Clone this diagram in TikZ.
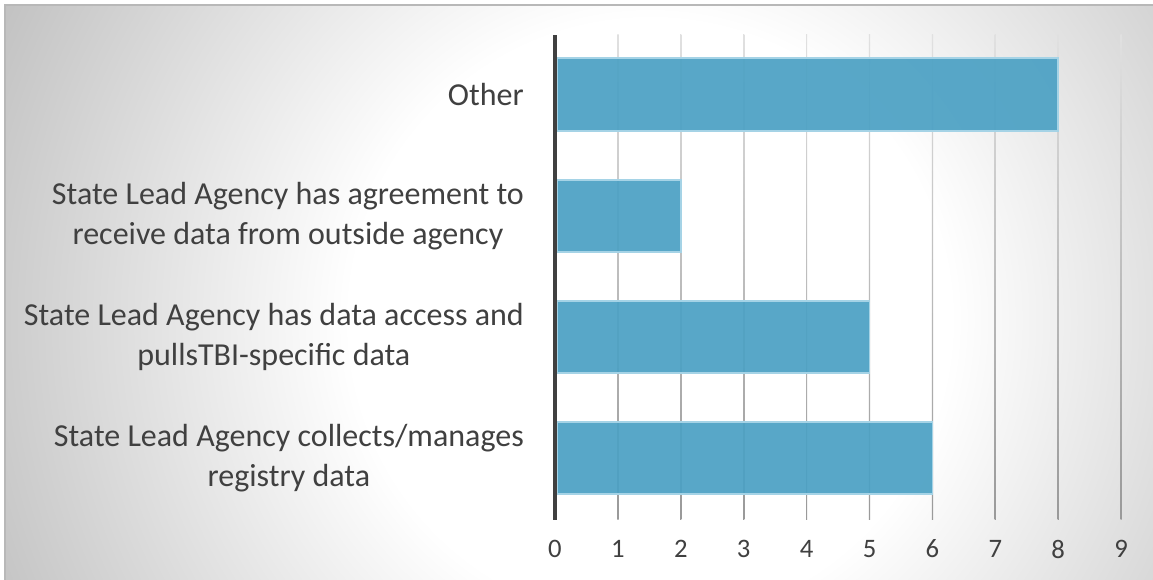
\documentclass[tikz,border=0pt]{standalone}
\usepackage{fontspec}
\setmainfont{Carlito}
\definecolor{barblue}{RGB}{76,161,196}
\definecolor{baredge}{RGB}{165,211,230}
\definecolor{txtgray}{RGB}{64,64,64}
\pgfdeclareradialshading{chartbg}{\pgfpoint{0bp}{0bp}}{color(0bp)=(white); color(10bp)=(white); color(24bp)=(black!24); color(50bp)=(black!24)}
\begin{document}
\begin{tikzpicture}[x=0.75pt,y=0.75pt,
  bar/.style={fill=barblue, fill opacity=0.93, draw=baredge, line width=1.1pt},
  catlabel/.style={anchor=east, align=center, inner sep=0pt, text=txtgray, font=\fontsize{24}{30}\selectfont},
  ticklabel/.style={inner sep=0pt, text=txtgray, font=\fontsize{20}{24}\selectfont}]
\useasboundingbox (0,0) rectangle (1153,580);
\fill[white] (0,0) rectangle (1153,580);
\begin{scope}
\clip (5,0) rectangle (1153,575);
\shade[shading=chartbg] (650,260) circle (750);
\end{scope}
\draw[black!28, line width=0.8pt] (5,0) -- (5,575) -- (1153,575);
% grid
\foreach \i in {1,...,9}
  \shade[top color=black!12, bottom color=black!40] ({555+62.9*\i-0.6},60) rectangle ({555+62.9*\i+0.6},545);
\foreach \i in {0,...,9}
  \node[ticklabel] (t\i) at ({555+62.9*\i},31) {\i};
% bars
\draw[bar] (557,449) rectangle ({555+62.9*8},522);
\draw[bar] (557,328) rectangle ({555+62.9*2},400);
\draw[bar] (557,207) rectangle ({555+62.9*5},279);
\draw[bar] (557,86) rectangle ({555+62.9*6},158);
\draw[txtgray, line width=2.3pt] (555,60) -- (555,545);
% categories
\node[catlabel] (other) at (524,485.5) {Other};
\node[catlabel] (agree) at (524,364) {State Lead Agency has agreement to\\receive data from outside agency};
\node[catlabel] (access) at (524,243) {State Lead Agency has data access and\\pullsTBI-specific data};
\node[catlabel] (collect) at (524,122) {State Lead Agency collects/manages\\registry data};
\end{tikzpicture}
\end{document}
